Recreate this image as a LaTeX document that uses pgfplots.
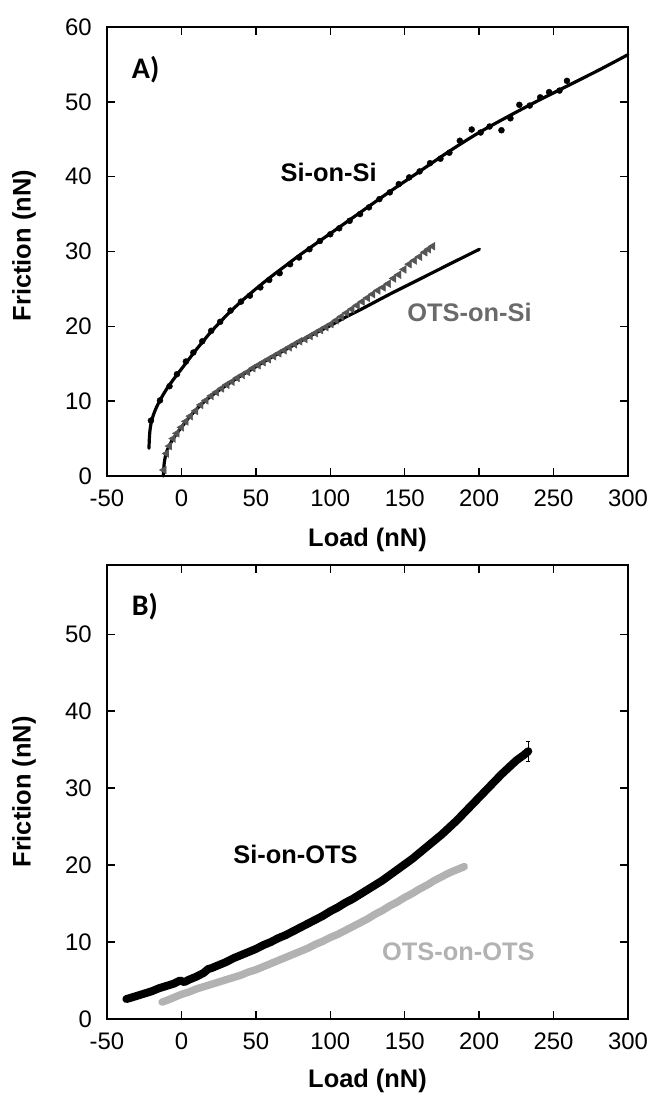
\documentclass[border=0pt]{standalone}
\usepackage{pgfplots}
\pgfplotsset{compat=1.18}
\usepackage{fontspec}
\setmainfont{Liberation Sans}
\newfontfamily\carlito{Carlito}
\definecolor{otsgray}{HTML}{6A6A6A}
\definecolor{trigray}{HTML}{555555}
\definecolor{lightg}{HTML}{B2B2B2}

\pgfplotsset{
  myaxis/.style={
    scale only axis, width=521bp,
    xmin=-50, xmax=300, xtick={-50,0,50,100,150,200,250,300},
    axis line style={line width=1.6bp},
    every tick/.style={line width=1.5bp,black},
    major tick length=8bp,
    tick align=inside,
    tick label style={font=\fontsize{24}{28}\selectfont, inner sep=0pt},
    /pgf/number format/assume math mode=true,
    label style={font=\bfseries\fontsize{25.5}{30}\selectfont},
    xlabel={Load (nN)},
    ylabel={Friction (nN)},
    yticklabel style={xshift=-15bp},
    xticklabel style={yshift=-14bp},
    clip=false,
  }
}

\begin{document}
\begin{tikzpicture}
\path[use as bounding box] (0bp,0bp) rectangle (654bp,1095bp);

% ---------------- Panel A ----------------
\begin{axis}[myaxis, at={(107bp,619bp)}, anchor=south west,
  height=449bp, ymin=0, ymax=60, ytick={0,10,20,30,40,50,60},
  xlabel style={at={(axis description cs:0.5,-0.1425)},anchor=center},
  ylabel style={at={(axis description cs:-0.1593,0.513)},anchor=center}]

% Si-on-Si fit
\addplot[black, line width=3.2bp, smooth, line cap=round] coordinates {
(-21.8,3.7) (-21.5,5.2) (-21,6.3) (-20,7.4) (-18,8.6) (-15,9.9) (-10,11.6) (-5,13.0)
(0,14.3) (5,15.6) (10,16.9) (15,18.1) (20,19.3) (30,21.4) (40,23.3) (50,25.0)
(60,26.6) (70,28.1) (80,29.6) (100,32.4) (120,35.2) (140,38.0) (160,40.7) (180,43.4)
(200,45.9) (220,48.1) (240,50.2) (260,52.2) (280,54.2) (300,56.3)
};
% Si-on-Si data points
\addplot[only marks, mark=*, mark size=3bp, black] coordinates {
(-20.5,7.4) (-14.4,10.1) (-8,12.0) (-3,13.6) (3,15.3) (8,16.5) (14,18.0) (20,19.4)
(26,20.6) (33,22.1) (40,23.3) (46,24.1) (53,25.2) (59,26.2) (66,27.1) (73,28.3)
(79,29.2) (86,30.3) (93,31.4) (100,32.3) (106,33.1) (113,34.1) (120,35.0) (126,35.9)
(133,37.0) (140,37.9) (146,39.0) (153,39.9) (160,40.7) (167,41.8) (174,42.4) (180,43.2)
(187,44.8) (195,46.3) (201,45.9) (207,46.7) (215,46.2) (221,47.8) (227,49.6) (234,49.5)
(241,50.6) (247,51.3) (254,51.5) (259,52.8)
};
% OTS-on-Si data (left-pointing triangles)
\addplot[only marks, mark=triangle*, mark size=4.5bp, trigray, mark options={rotate=90, trigray}] coordinates {
(-11.8,0.8) (-10,3.0) (-8,4.0) (-5.5,5.0) (-3,5.7) (0,6.5) (3,7.3) (6,8.0) (9.5,8.7)
(13,9.5) (16.5,10.1) (20,10.7) (23.5,11.2) (27,11.7) (30.5,12.2) (34,12.6) (37.5,13.1)
(41,13.5) (44.5,13.9) (48,14.4) (51.5,14.8) (55,15.2) (58.5,15.6) (62,16.0) (65.5,16.4)
(69,16.8) (72.5,17.2) (76,17.6) (79.5,18.0) (83,18.3) (86.5,18.7) (90,19.1) (93.5,19.5)
(97,19.9) (100.5,20.3) (104,20.8) (107.5,21.3) (111,21.8) (114.5,22.3) (118,22.8)
(121.5,23.3) (125,23.8) (128.5,24.3) (132,24.8) (135.5,25.2) (139,25.7) (142.5,26.4)
(146,26.9) (149.5,27.6) (153,28.3) (156.5,28.8) (160,29.3) (163.5,29.9) (166,30.3) (168.8,30.7)
};
% OTS-on-Si fit
\addplot[black, line width=3.2bp, smooth, line cap=round] coordinates {
(-12.2,0) (-11.5,1.8) (-10,3.2) (-6.7,4.6) (-2,6.0) (0,6.5) (5,7.8) (12.4,9.4)
(20,10.7) (30,12.1) (40,13.4) (50,14.6) (60,15.8) (70,16.9) (80,18.0) (90,19.1)
(100,20.1) (110,21.2) (120,22.2) (140,24.3) (160,26.3) (180,28.3) (200.2,30.3)
};

\node[anchor=west, inner sep=0pt, font=\carlito\bfseries\fontsize{30}{36}\selectfont] at (axis cs:-33.4,54.3) {A)};
\node[font=\bfseries\fontsize{25.5}{30}\selectfont] at (axis cs:98.9,40.6) {Si-on-Si};
\node[font=\bfseries\fontsize{25.5}{30}\selectfont, text=otsgray] at (axis cs:193.5,21.9) {OTS-on-Si};
\end{axis}

% ---------------- Panel B ----------------
\begin{axis}[myaxis, at={(107bp,76bp)}, anchor=south west,
  height=454bp, ymin=0, ymax=59, ytick={0,10,20,30,40,50},
  xlabel style={at={(axis description cs:0.5,-0.1366)},anchor=center},
  ylabel style={at={(axis description cs:-0.1593,0.5)},anchor=center}]

% OTS-on-OTS
\addplot[lightg, line width=7.5bp, line cap=round, line join=round] coordinates {
(-13,2.2) (-10,2.4) (-5,2.8) (0,3.2) (5,3.5) (10,3.9) (15,4.2) (20,4.5) (25,4.8)
(30,5.1) (35,5.4) (40,5.7) (45,6.1) (50,6.4) (55,6.8) (60,7.2) (65,7.6) (70,8.0)
(75,8.4) (80,8.8) (85,9.2) (90,9.7) (95,10.1) (100,10.6) (105,11.0) (110,11.5)
(115,12.0) (120,12.5) (125,13.0) (130,13.6) (135,14.1) (140,14.7) (145,15.2)
(150,15.8) (155,16.3) (160,16.9) (165,17.4) (170,18.0) (175,18.5) (180,19.0)
(185,19.4) (190,19.8)
};
% Si-on-OTS
\addplot[black, line width=8bp, line cap=round, line join=round] coordinates {
(-37,2.6) (-35,2.7) (-30,3.0) (-25,3.3) (-20,3.6) (-15,4.0) (-10,4.3) (-5,4.6)
(-1,5.0) (2,4.8) (5,5.1) (10,5.5) (15,6.0) (18,6.5) (20,6.6) (25,7.0) (30,7.4)
(35,7.9) (40,8.3) (45,8.7) (50,9.1) (55,9.6) (60,10.0) (65,10.5) (70,10.9)
(75,11.4) (80,11.9) (85,12.4) (90,12.9) (95,13.4) (100,14.0) (105,14.5) (110,15.1)
(115,15.6) (120,16.2) (125,16.8) (130,17.4) (135,18.0) (140,18.7) (145,19.4)
(150,20.1) (155,20.8) (160,21.6) (165,22.4) (170,23.2) (175,24.0) (180,24.9)
(185,25.8) (190,26.8) (195,27.8) (200,28.8) (205,29.8) (210,30.8) (215,31.8)
(220,32.7) (225,33.6) (230,34.3) (233,34.8)
};
\addplot[draw=none, black, mark=none, error bars/.cd, y dir=both, y explicit,
  error bar style={line width=1bp, black}, error mark options={black, line width=1bp, mark size=2bp, rotate=90}]
  coordinates {(233,34.8) +- (0,1.3)};

\node[anchor=west, inner sep=0pt, font=\carlito\bfseries\fontsize{30}{36}\selectfont] at (axis cs:-33.4,53.6) {B)};
\node[font=\bfseries\fontsize{25.5}{30}\selectfont] at (axis cs:76.6,21.4) {Si-on-OTS};
\node[font=\bfseries\fontsize{25.5}{30}\selectfont, text=lightg] at (axis cs:186,8.7) {OTS-on-OTS};
\end{axis}
\end{tikzpicture}
\end{document}
